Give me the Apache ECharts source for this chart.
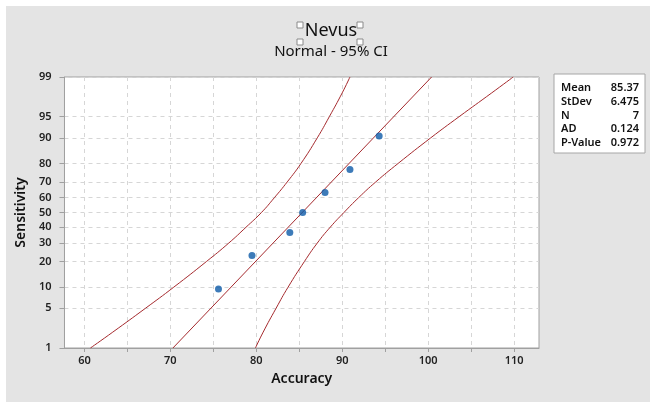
<!DOCTYPE html>
<html><head><meta charset="utf-8">
<script src="https://cdn.jsdelivr.net/npm/echarts@6/dist/echarts.min.js"></script>
<style>html,body{margin:0;padding:0;background:#fff;width:650px;height:402px;overflow:hidden}
#chart{position:absolute;left:6px;top:6px;width:644px;height:396px;}</style>
</head><body><div id="chart"></div>
<script>
// ---- data ----
const accuracy = [75.6, 79.5, 83.9, 85.4, 88.0, 90.9, 94.3];
const sensitivity = [9.46, 22.97, 36.49, 50.0, 63.51, 77.03, 90.54];
const fitAccuracy = [70.3, 100.4];
const fitPercent = [1, 99];
const ciPercent = [1, 2, 5, 10, 20, 30, 40, 50, 60, 70, 80, 90, 95, 98, 99];
const ciLower = [60.7, 63.3, 67.1, 70.4, 74.2, 76.8, 78.8, 80.6, 82.1, 83.6, 85.2, 87.1, 88.5, 90.0, 90.9];
const ciUpper = [79.9, 80.8, 82.3, 83.7, 85.6, 87.1, 88.6, 90.2, 91.9, 93.9, 96.5, 100.3, 103.6, 107.4, 109.9];
const yTickLabels = [1, 5, 10, 20, 30, 40, 50, 60, 70, 80, 90, 95, 99];
const xTickValues = [60, 65, 70, 75, 80, 85, 90, 95, 100, 105, 110];
const xLabelValues = [60, 70, 80, 90, 100, 110];
const statNames = ['Mean', 'StDev', 'N', 'AD', 'P-Value'];
const statValues = ['85.37', '6.475', '7', '0.124', '0.972'];
const chartTitle = 'Nevus';
const chartSubtitle = 'Normal - 95% CI';

// normal probability (probit) scale transform
function probit(p){
  const a=[-3.969683028665376e+01,2.209460984245205e+02,-2.759285104469687e+02,1.383577518672690e+02,-3.066479806614716e+01,2.506628277459239e+00];
  const b=[-5.447609879822406e+01,1.615858368580409e+02,-1.556989798598866e+02,6.680131188771972e+01,-1.328068155288572e+01];
  const c=[-7.784894002430293e-03,-3.223964580411365e-01,-2.400758277161838e+00,-2.549732539343734e+00,4.374664141464968e+00,2.938163982698783e+00];
  const d=[7.784695709041462e-03,3.224671290700398e-01,2.445134137142996e+00,3.754408661907416e+00];
  const pl=0.02425, ph=1-pl; let q,r;
  if(p<pl){q=Math.sqrt(-2*Math.log(p));return (((((c[0]*q+c[1])*q+c[2])*q+c[3])*q+c[4])*q+c[5])/((((d[0]*q+d[1])*q+d[2])*q+d[3])*q+1);}
  if(p<=ph){q=p-0.5;r=q*q;return (((((a[0]*r+a[1])*r+a[2])*r+a[3])*r+a[4])*r+a[5])*q/(((((b[0]*r+b[1])*r+b[2])*r+b[3])*r+b[4])*r+1);}
  q=Math.sqrt(-2*Math.log(1-p));return -(((((c[0]*q+c[1])*q+c[2])*q+c[3])*q+c[4])*q+c[5])/((((d[0]*q+d[1])*q+d[2])*q+d[3])*q+1);
}
const pz = v => probit(v/100);
const zTicks = yTickLabels.map(pz);
function zLabel(v){
  let best=0, bd=1e9;
  zTicks.forEach((z,i)=>{const dd=Math.abs(z-v); if(dd<bd){bd=dd;best=i;}});
  return String(yTickLabels[best]);
}

const FONT = 'Noto Sans';
const RED = '#a52a2e';
const gridLine = {show:true, lineStyle:{color:'#d6d6d6', type:[4,4], width:1}};

const statChildren = [{type:'rect', shape:{x:0,y:0,width:91,height:79}, style:{fill:'#fff', stroke:'#a6a6a6', lineWidth:1}}];
statNames.forEach((n,i)=>{
  statChildren.push({type:'text', x:7, y:14+i*13.7, style:{text:n, fill:'#111', font:'600 11px "'+FONT+'"', textAlign:'left', textVerticalAlign:'middle'}});
  statChildren.push({type:'text', x:85, y:14+i*13.7, style:{text:statValues[i], fill:'#111', font:'600 11px "'+FONT+'"', textAlign:'right', textVerticalAlign:'middle'}});
});
const handle = (x,y)=>({type:'rect', shape:{x:x,y:y,width:6,height:6}, style:{fill:'#fff', stroke:'#8a8a8a', lineWidth:1}});

const chart = echarts.init(document.getElementById('chart'), null, {renderer:'canvas'});
chart.setOption({
  backgroundColor:'#e4e4e4',
  animation:false,
  textStyle:{fontFamily:FONT},
  grid:{left:57, top:71, width:476, height:271, show:true, backgroundColor:'#fff', borderColor:'#a0a0a0', borderWidth:1},
  xAxis:{
    type:'value', min:57.68, max:112.9,
    name:'Accuracy', nameLocation:'middle', nameGap:24,
    nameTextStyle:{fontSize:14, color:'#111', fontFamily:FONT, fontWeight:600},
    axisLine:{show:true, onZero:false, lineStyle:{color:'#a0a0a0'}},
    axisTick:{show:true, customValues:xTickValues, length:4, lineStyle:{color:'#a0a0a0'}},
    axisLabel:{customValues:xLabelValues, margin:7, fontSize:11, fontWeight:600, color:'#222', fontFamily:FONT},
    splitLine:gridLine
  },
  yAxis:{
    type:'value', min:zTicks[0], max:zTicks[zTicks.length-1],
    name:'Sensitivity', nameLocation:'middle', nameGap:36,
    nameTextStyle:{fontSize:14, color:'#111', fontFamily:FONT, fontWeight:600},
    axisLine:{show:true, onZero:false, lineStyle:{color:'#a0a0a0'}},
    axisTick:{show:true, customValues:zTicks, length:5, lineStyle:{color:'#a0a0a0'}},
    axisLabel:{customValues:zTicks, formatter:zLabel, margin:13, fontSize:11, fontWeight:600, color:'#222', fontFamily:FONT},
    splitLine:gridLine
  },
  graphic:[
    {type:'text', x:325, y:25, style:{text:chartTitle, fill:'#111', font:'18px "'+FONT+'"', textAlign:'center', textVerticalAlign:'middle'}},
    {type:'text', x:325, y:46, style:{text:chartSubtitle, fill:'#111', font:'15px "'+FONT+'"', textAlign:'center', textVerticalAlign:'middle'}},
    handle(291,16), handle(351,16), handle(291,33), handle(351,33),
    {type:'group', x:548, y:68, children:statChildren}
  ],
  series:[
    {type:'line', data:ciPercent.map((p,i)=>[ciLower[i], pz(p)]), smooth:true, showSymbol:false, lineStyle:{color:RED, width:1}, z:2},
    {type:'line', data:ciPercent.map((p,i)=>[ciUpper[i], pz(p)]), smooth:true, showSymbol:false, lineStyle:{color:RED, width:1}, z:2},
    {type:'line', data:fitPercent.map((p,i)=>[fitAccuracy[i], pz(p)]), showSymbol:false, lineStyle:{color:RED, width:1}, z:2},
    {type:'scatter', data:sensitivity.map((p,i)=>[accuracy[i], pz(p)]), symbolSize:7, itemStyle:{color:'#0d5aa7'}, z:3}
  ]
});
</script></body></html>
